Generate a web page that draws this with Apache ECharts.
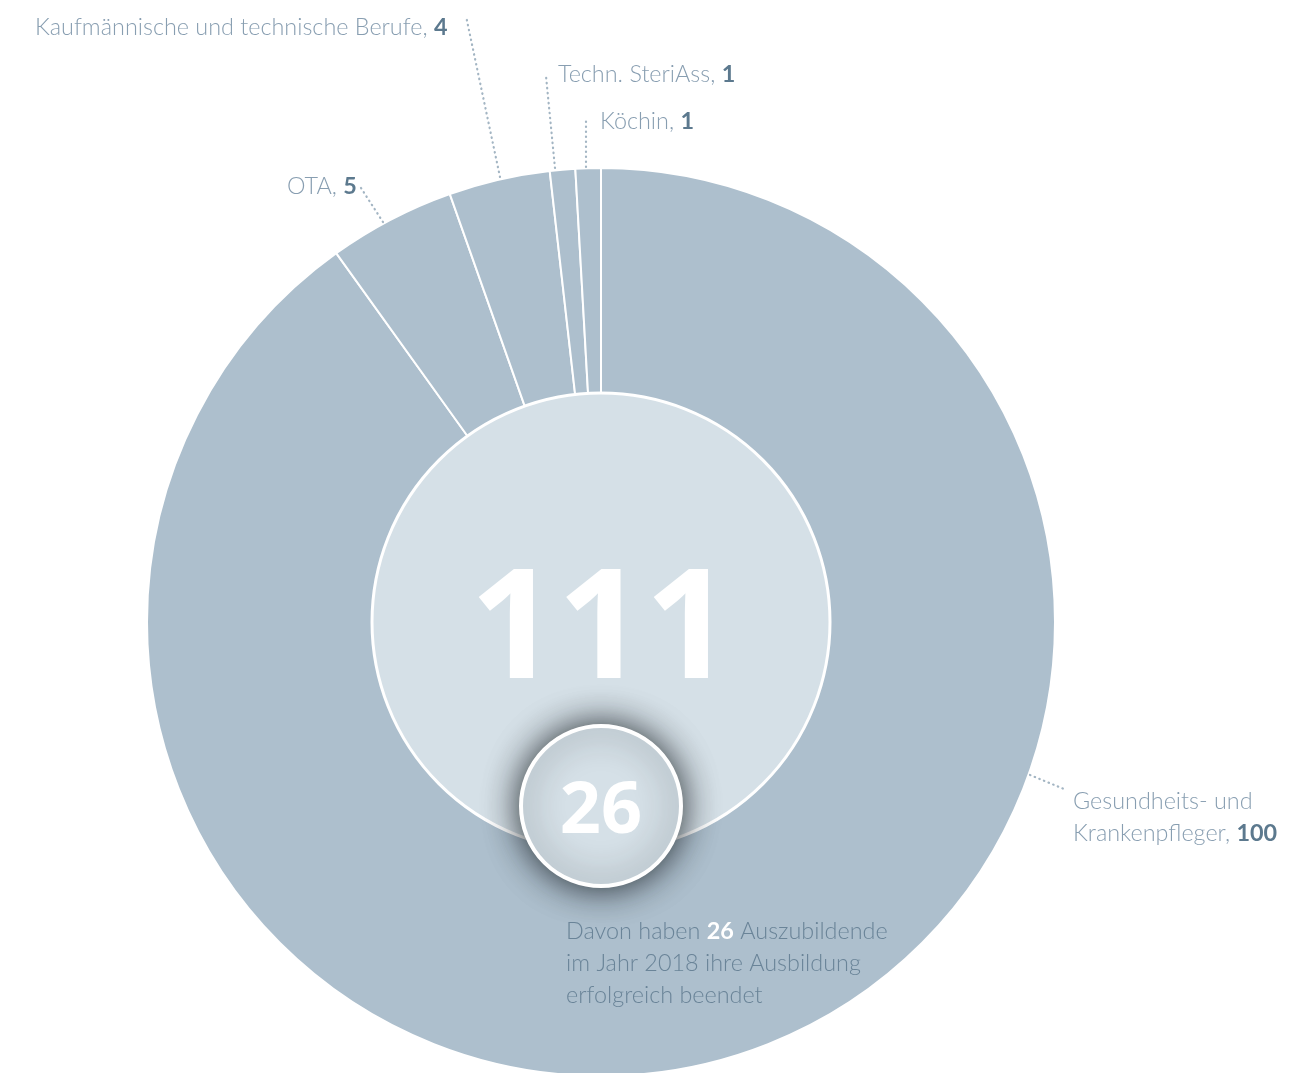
<!DOCTYPE html>
<html><head><meta charset="utf-8">
<script src="https://cdn.jsdelivr.net/npm/echarts@6/dist/echarts.min.js"></script>
<style>html,body{margin:0;padding:0;background:#fff}#c{width:1303px;height:1073px}</style>
</head><body><div id="c"></div>
<script>
// ---- data ----
const categories = ['Gesundheits- und\nKrankenpfleger', 'OTA', 'Kaufmännische und technische Berufe', 'Techn. SteriAss', 'Köchin'];
const values = [100, 5, 4, 1, 1];
const graduates = 26;
const graduatesYear = 2018;
const total = values.reduce((a, b) => a + b, 0);

// ---- label annotation layout ----
const labelPos = [[1073, 817], [287, 186], [35, 27], [558, 74], [600, 121]];
const leaderLines = [
  [[1030, 775], [1064, 789]],
  [[383, 222], [361, 188]],
  [[500, 177], [466, 16]],
  [[555, 168], [546, 76]],
  [[586, 167], [586, 121]]
];

const FONT = "Lato,'Liberation Sans',sans-serif";
const NUMFONT = "'Open Sans','Liberation Sans',sans-serif";
const FS = 23.4;
const CX = 601, CY = 622;

const chart = echarts.init(document.getElementById('c'), null, {renderer: 'canvas'});

chart.setOption({
  animation: false,
  backgroundColor: '#ffffff',
  series: [
    {
      type: 'pie', z: 1,
      center: [CX, CY], radius: [225, 454],
      startAngle: 90, clockwise: true,
      avoidLabelOverlap: false, silent: true,
      itemStyle: {color: '#adbfcd', borderColor: '#ffffff', borderWidth: 2},
      label: {
        show: true, position: 'outside',
        formatter: p => {
          const lines = p.name.split('\n');
          return lines.map((s, i) => i < lines.length - 1 ? '{n|' + s + '}' : '{n|' + s + ', }{v|' + p.value + '}').join('\n');
        },
        rich: {
          n: {fontFamily: FONT, fontSize: FS, fontWeight: 300, color: '#889eb1', lineHeight: 32},
          v: {fontFamily: FONT, fontSize: FS, fontWeight: 'bold', color: '#5c798e', lineHeight: 32}
        }
      },
      labelLine: {show: false},
      labelLayout: params => {
        const p = labelPos[params.dataIndex];
        return {x: p[0], y: p[1], align: 'left', verticalAlign: 'middle'};
      },
      data: categories.map((c, i) => ({name: c, value: values[i]}))
    },
    {
      type: 'pie', z: 2,
      center: [CX, CY], radius: [0, 229],
      silent: true,
      itemStyle: {color: '#d5e0e7', borderColor: '#ffffff', borderWidth: 3},
      label: {
        show: true, position: 'center', offset: [0, 12],
        formatter: p => String(p.value),
        fontFamily: NUMFONT, fontSize: 153, fontWeight: 'bold', color: '#ffffff'
      },
      labelLine: {show: false},
      data: [{name: 'Auszubildende', value: total}]
    },
    {
      type: 'pie', z: 3,
      center: [CX, 806], radius: [0, 80],
      silent: true,
      itemStyle: {color: '#d5e0e7', borderColor: '#ffffff', borderWidth: 4,
        shadowBlur: 34, shadowColor: 'rgba(20,25,30,0.9)'},
      label: {
        show: true, position: 'center', offset: [0, 6],
        formatter: p => String(p.value),
        fontFamily: NUMFONT, fontSize: 72, fontWeight: 'bold', color: '#ffffff'
      },
      labelLine: {show: false},
      data: [{name: 'Abschluss', value: graduates}]
    }
  ],
  graphic: [
    ...leaderLines.map(pts => ({
      type: 'polyline', z: 50, silent: true,
      shape: {points: pts},
      style: {stroke: '#a3b5c3', lineWidth: 2.2, lineDash: [0.5, 4.5], lineCap: 'round', fill: null}
    })),
    {
      type: 'text', z: 60, left: 566, top: 920, silent: true,
      style: {
        text: '{t|Davon haben }{b|' + graduates + '}{t| Auszubildende}\n{t|im Jahr ' + graduatesYear + ' ihre Ausbildung}\n{t|erfolgreich beendet}',
        rich: {
          t: {fontFamily: FONT, fontSize: FS, fontWeight: 300, fill: '#6a8498', lineHeight: 32},
          b: {fontFamily: FONT, fontSize: FS, fontWeight: 'bold', fill: '#ffffff', lineHeight: 32}
        }
      }
    }
  ]
});
</script>
</body></html>
